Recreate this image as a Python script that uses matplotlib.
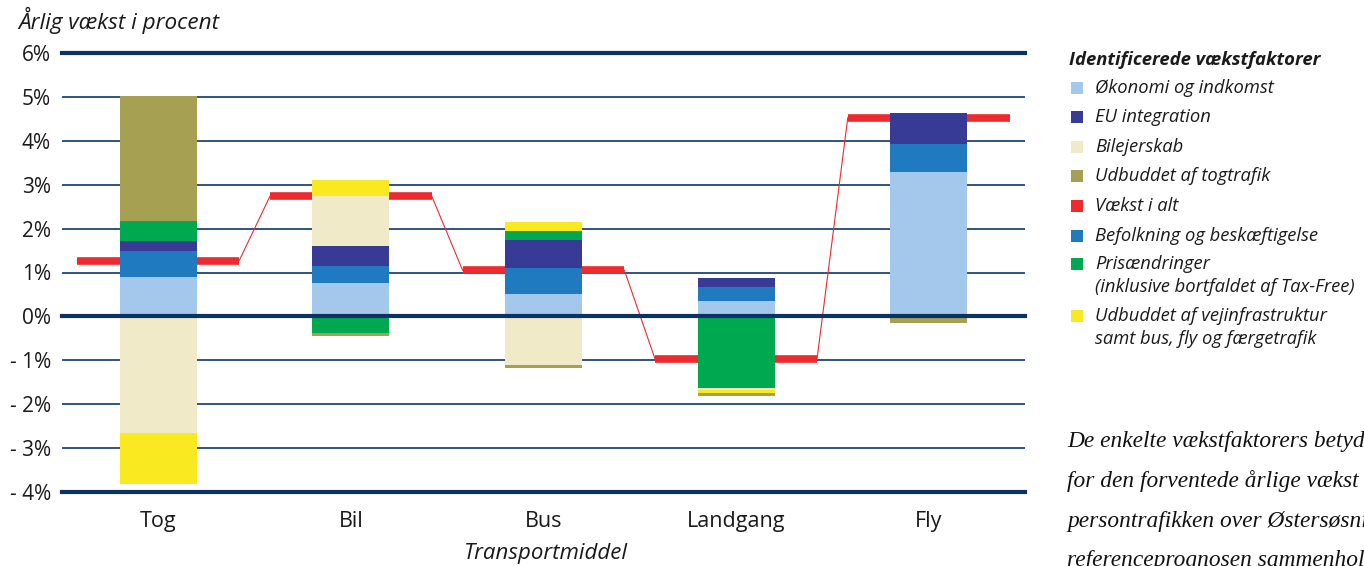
import matplotlib
matplotlib.use("Agg")
import matplotlib.pyplot as plt
from matplotlib.patches import Rectangle

categories = ["Tog", "Bil", "Bus", "Landgang", "Fly"]

# factor contributions (% annual growth)
okonomi     = [0.90, 0.76, 0.51, 0.35, 3.30]
befolkning  = [0.59, 0.39, 0.59, 0.32, 0.63]
eu          = [0.23, 0.45, 0.64, 0.20, 0.70]
bilejerskab = [-2.65, 1.14, -1.11, -0.05, 0.00]
pris        = [0.45, -0.38, 0.20, -1.62, 0.00]
togtrafik   = [2.85, -0.07, -0.07, -0.07, -0.16]
vej         = [-1.16, 0.37, 0.21, -0.07, 0.00]
total       = [1.27, 2.74, 1.05, -0.98, 4.53]

yticks = [6, 5, 4, 3, 2, 1, 0, -1, -2, -3, -4]
ytick_labels = ["6%", "5%", "4%", "3%", "2%", "1%", "0%", "- 1%", "- 2%", "- 3%", "- 4%"]

legend_labels = ["Økonomi og indkomst", "EU integration", "Bilejerskab",
                 "Udbuddet af togtrafik", "Vækst i alt",
                 "Befolkning og beskæftigelse",
                 "Prisændringer\n(inklusive bortfaldet af Tax-Free)",
                 "Udbuddet af vejinfrastruktur\nsamt bus, fly og færgetrafik"]

C_OK = "#A3C8EC"
C_EU = "#373B96"
C_BIL = "#F0EAC8"
C_TOG = "#A5A052"
C_RED = "#EE2A2E"
C_BEF = "#1F7AC0"
C_PRIS = "#00A84F"
C_VEJ = "#F8E921"
legend_colors = [C_OK, C_EU, C_BIL, C_TOG, C_RED, C_BEF, C_PRIS, C_VEJ]

FONT = ["Open Sans", "DejaVu Sans"]
plt.rcParams["font.family"] = FONT

W, H = 1364, 566
fig = plt.figure(figsize=(W / 100, H / 100), dpi=100)
ax = fig.add_axes([62 / W, 1 - 492 / H, (1025 - 62) / W, (492 - 53) / H])
ax.set_xlim(-0.5, 4.5)
ax.set_ylim(-4, 6)

pos_order = [(okonomi, C_OK), (befolkning, C_BEF), (eu, C_EU), (bilejerskab, C_BIL),
             (pris, C_PRIS), (togtrafik, C_TOG), (vej, C_VEJ)]
neg_order = [(pris, C_PRIS), (bilejerskab, C_BIL), (vej, C_VEJ), (togtrafik, C_TOG)]

x = list(range(len(categories)))
bw = 0.40
pos_base = [0.0] * len(x)
neg_base = [0.0] * len(x)
for vals, col in pos_order:
    for i, v in enumerate(vals):
        if v > 0:
            ax.bar(i, v, bw, bottom=pos_base[i], color=col, zorder=3, linewidth=0)
            pos_base[i] += v
for vals, col in neg_order:
    for i, v in enumerate(vals):
        if v < 0:
            ax.bar(i, v, bw, bottom=neg_base[i], color=col, zorder=3, linewidth=0)
            neg_base[i] += v

# gridlines
for yv in yticks:
    if yv in (6, 0, -4):
        ax.axhline(yv, color="#0c3262", lw=3.0, zorder=5, clip_on=False)
    else:
        ax.axhline(yv, color="#1f4676", lw=1.3, zorder=1)

# total growth
hw = 0.42
xs, ys = [], []
for i, t in enumerate(total):
    xs += [i - hw, i + hw]
    ys += [t, t]
ax.plot(xs, ys, color=C_RED, lw=0.8, zorder=2)
ax.hlines(total, [i - hw for i in x], [i + hw for i in x], color=C_RED, lw=5.5, zorder=2)

ax.set_yticks(yticks)
ax.set_yticklabels(ytick_labels, fontsize=15, color="#1a1a1a")
ax.set_xticks(x)
ax.set_xticklabels(categories, fontsize=15.5, color="#1a1a1a")
ax.tick_params(axis="both", length=0)
ax.tick_params(axis="y", pad=8)
ax.tick_params(axis="x", pad=14)
for s in ax.spines.values():
    s.set_visible(False)

def fx(px):
    return px / W

def fy(py):
    return 1 - py / H

fig.text(fx(18), fy(20), "Årlig vækst i procent", fontsize=16.2, style="italic",
         ha="left", va="center", color="#1a1a1a")
fig.text(fx(546), fy(554), "Transportmiddel", fontsize=16, style="italic",
         ha="center", va="center", color="#1a1a1a")

# legend
fig.text(fx(1069), fy(60), "Identificerede vækstfaktorer", fontsize=13.3, style="italic",
         weight="bold", ha="left", va="center", color="#1a1a1a")
item_y = [88, 117, 147, 176, 206, 236, 264, 316]
for lab, col, yy in zip(legend_labels, legend_colors, item_y):
    fig.patches.append(Rectangle((fx(1071), fy(yy + 6)), 12 / W, 12 / H,
                                 transform=fig.transFigure, color=col, linewidth=0))
    lines = lab.split("\n")
    for k, ln in enumerate(lines):
        fig.text(fx(1095), fy(yy + k * 23), ln, fontsize=13.2, style="italic",
                 ha="left", va="center", color="#1a1a1a")

# side text (serif)
side = ["De enkelte vækstfaktorers betydning",
        "for den forventede årlige vækst i",
        "persontrafikken over Østersøsnittet",
        "referenceprognosen sammenholdt"]
for k, ln in enumerate(side):
    fig.text(fx(1067), fy(442 + k * 39.5), ln, fontsize=16.8, style="italic",
             family=["Liberation Serif", "DejaVu Serif"], ha="left",
             va="center", color="#111111")

fig.savefig("out.png", dpi=100)
